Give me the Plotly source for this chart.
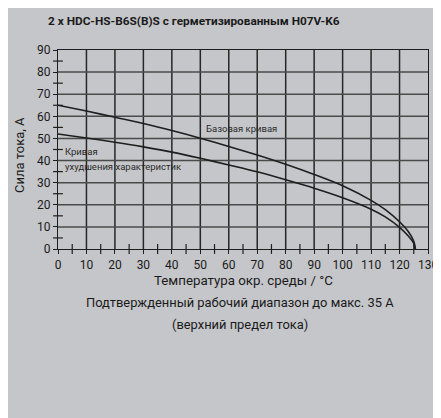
import plotly.graph_objects as go

temp_base = [0, 10, 20, 30, 40, 50, 60, 70, 80, 90, 100, 110, 115, 120, 123, 125, 125.6]
current_base = [65, 62.4, 59.6, 56.8, 53.6, 50.1, 46.4, 42.5, 38.3, 33.7, 28.6, 22, 17.8, 12.3, 8, 3.5, 0]
temp_derated = [0, 10, 20, 30, 40, 50, 60, 70, 80, 90, 100, 110, 115, 120, 123, 125, 125.4]
current_derated = [52, 50.2, 48.3, 46.2, 43.8, 41, 38, 34.9, 31.3, 27.5, 23.2, 18, 14.5, 9.8, 6, 2.5, 0]

x_ticks = [0, 10, 20, 30, 40, 50, 60, 70, 80, 90, 100, 110, 120, 130]
y_ticks = [0, 10, 20, 30, 40, 50, 60, 70, 80, 90]
x_minor = [5, 15, 25, 35, 45, 55, 65, 75, 85, 95, 105, 115, 125]
y_minor = [5, 15, 25, 35, 45, 55, 65, 75, 85]

title_text = "2 x HDC-HS-B6S(B)S с герметизированным H07V-K6"
x_title = "Температура окр. среды / °C"
note_lines = ["Подтвержденный рабочий диапазон до макс. 35 A", "(верхний предел тока)"]
y_title = "Сила тока, А"
label_base = "Базовая кривая"
label_derated = ["Кривая", "ухудшения характеристик"]

FONT = "Roboto, sans-serif"
BG = "#c5c6c9"
INK = "#1e1e1e"

# the page body has an 8 px margin; the figure fills the rest of the window
OFF = 8
W, H = 441 - OFF, 418 - OFF
L, T = 58 - OFF, 50 - OFF
R, B = W - (428 - OFF), H - (249 - OFF)
PW, PH = W - L - R, H - T - B

def px_x(page_px):
    return (page_px - OFF - L) / PW

def px_y(page_py):
    return (H - B - (page_py - OFF)) / PH

x_lo, x_hi = x_ticks[0], x_ticks[-1]
y_lo, y_hi = y_ticks[0], y_ticks[-1]

fig = go.Figure()

# grid lines: one small line trace per tick value, on the axes' own scales
for v in x_ticks[1:-1]:
    fig.add_trace(go.Scatter(x=[v, v], y=[y_lo, y_hi], mode="lines",
                             line=dict(color="#262626", width=1.5),
                             hoverinfo="skip", showlegend=False))
for v in y_ticks[1:-1]:
    fig.add_trace(go.Scatter(x=[x_lo, x_hi], y=[v, v], mode="lines",
                             line=dict(color="#4a4a4a", width=1.5),
                             hoverinfo="skip", showlegend=False))

for xs, ys in ((temp_base, current_base), (temp_derated, current_derated)):
    fig.add_trace(go.Scatter(x=xs, y=ys, mode="lines",
                             line=dict(color=INK, width=1.6, shape="spline", smoothing=0.8),
                             hoverinfo="skip", showlegend=False))

# minor ticks crossing the axes
fig.add_trace(go.Scatter(x=x_minor, y=[y_lo] * len(x_minor), mode="markers", cliponaxis=False,
                         marker=dict(symbol="line-ns", size=7, line=dict(color=INK, width=1.2)),
                         hoverinfo="skip", showlegend=False))
fig.add_trace(go.Scatter(x=[x_lo] * len(y_minor), y=y_minor, mode="markers", cliponaxis=False,
                         marker=dict(symbol="line-ew", size=7, line=dict(color=INK, width=1.2)),
                         hoverinfo="skip", showlegend=False))

lab_font = dict(size=9.5, color="#2a2a2a", family=FONT)
ann = [
    dict(text=label_base, x=51.3, y=54.3, xref="x", yref="y", xanchor="left", yanchor="middle",
         showarrow=False, font=lab_font),
    dict(text=label_derated[0], x=1.7, y=44.3, xref="x", yref="y", xanchor="left", yanchor="middle",
         showarrow=False, font=lab_font),
    dict(text=label_derated[1], x=1.7, y=37.4, xref="x", yref="y", xanchor="left", yanchor="middle",
         showarrow=False, font=lab_font),
    dict(text="<b>" + title_text + "</b>", x=px_x(46), y=px_y(21), xref="paper", yref="paper",
         xanchor="left", yanchor="middle", showarrow=False,
         font=dict(size=11.8, color="#1a1a1a", family=FONT)),
    dict(text=x_title, x=px_x(243), y=px_y(280), xref="paper", yref="paper",
         xanchor="center", yanchor="middle", showarrow=False,
         font=dict(size=13.3, color="#1a1a1a", family=FONT)),
    dict(text=note_lines[0], x=px_x(240), y=px_y(302), xref="paper", yref="paper",
         xanchor="center", yanchor="middle", showarrow=False,
         font=dict(size=12.9, color="#1a1a1a", family=FONT)),
    dict(text=note_lines[1], x=px_x(240), y=px_y(324), xref="paper", yref="paper",
         xanchor="center", yanchor="middle", showarrow=False,
         font=dict(size=12.9, color="#1a1a1a", family=FONT)),
    dict(text=y_title, x=px_x(19), y=px_y(155), xref="paper", yref="paper",
         xanchor="center", yanchor="middle", textangle=-90, showarrow=False,
         font=dict(size=13, color="#1a1a1a", family=FONT)),
]

common = dict(fixedrange=True, automargin=False, zeroline=False, showgrid=False)

fig.update_layout(
    template="none",
    width=W, height=H,
    margin=dict(l=L, r=R, t=T, b=B, pad=0),
    paper_bgcolor=BG,
    plot_bgcolor=BG,
    annotations=ann,
    font=dict(family=FONT, size=11, color="#1a1a1a"),
    xaxis=dict(range=[x_lo, x_hi], tickvals=x_ticks,
               showline=True, linecolor=INK, linewidth=1.2, mirror=True,
               ticks="outside", ticklen=4, tickcolor=INK,
               tickfont=dict(size=12, family=FONT, color="#1a1a1a"), **common),
    yaxis=dict(range=[y_lo, y_hi], tickvals=y_ticks,
               showline=True, linecolor=INK, linewidth=1.2, mirror=True,
               ticks="outside", ticklen=4, tickcolor=INK,
               tickfont=dict(size=12, family=FONT, color="#1a1a1a"), **common),
)

fig.write_html("out.html")
